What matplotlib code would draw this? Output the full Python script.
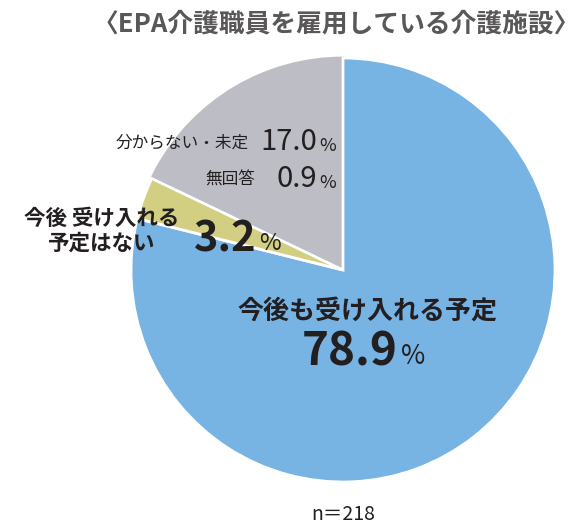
import matplotlib
matplotlib.use("Agg")
import matplotlib.pyplot as plt

plt.rcParams['font.family'] = ['Noto Sans CJK JP', 'DejaVu Sans']

# data
labels = ['今後も受け入れる予定', '今後 受け入れる\n予定はない', '無回答', '分からない・未定']
values = [78.9, 3.2, 0.9, 17.0]
colors = ['#77b3e3', '#d3cf82', '#bcbdc5', '#bcbdc5']
title = '〈EPA介護職員を雇用している介護施設〉'
n_label = 'n＝218'

W, H = 585, 527
fig = plt.figure(figsize=(W / 100, H / 100), dpi=100)
ax = fig.add_axes([0, 0, 1, 1])

wedges, _ = ax.pie(values, colors=colors, startangle=90, counterclock=False,
                   center=(343, H - 270), radius=212, frame=True,
                   wedgeprops=dict(edgecolor='white', linewidth=2))
ax.set_xlim(0, W)
ax.set_ylim(0, H)
ax.set_aspect('equal')
ax.axis('off')
# gray wedges drawn underneath, no white line between them
for w in wedges[2:]:
    w.set_edgecolor(w.get_facecolor())
    w.set_zorder(0.5)


def txt(x, y, s, **kw):
    fig.text(x / W, 1 - y / H, s, **kw)


dark = '#231f20'
txt(336, 24, title, ha='center', va='center', fontsize=18.5,
    fontweight='bold', color='#595757')

# main slice
txt(367, 311, labels[0], ha='center', va='center', fontsize=18.7,
    fontweight='bold', color=dark)
txt(398, 352, f'{values[0]}', ha='right', va='center', fontsize=33,
    fontweight='bold', color=dark)
txt(401, 357, '%', ha='left', va='center', fontsize=19, color=dark)

# yellow slice
txt(102, 231, labels[1], ha='center', va='center', fontsize=15.5,
    fontweight='bold', color=dark, linespacing=1.25)
txt(257, 239, f'{values[1]}', ha='right', va='center', fontsize=30,
    fontweight='bold', color=dark)
txt(259, 243, '%', ha='left', va='center', fontsize=17, color=dark)

# gray slices
txt(249, 143, labels[3], ha='right', va='center', fontsize=12, color=dark)
txt(317, 142, f'{values[3]}', ha='right', va='center', fontsize=21, color=dark)
txt(319, 146, '%', ha='left', va='center', fontsize=13, color=dark)

txt(255, 180, labels[2], ha='right', va='center', fontsize=12, color=dark)
txt(317, 179, f'{values[2]}', ha='right', va='center', fontsize=21, color=dark)
txt(319, 183, '%', ha='left', va='center', fontsize=13, color=dark)

txt(343, 514, n_label, ha='center', va='center', fontsize=14, color=dark)

fig.savefig('out.png', dpi=100, facecolor='white')
